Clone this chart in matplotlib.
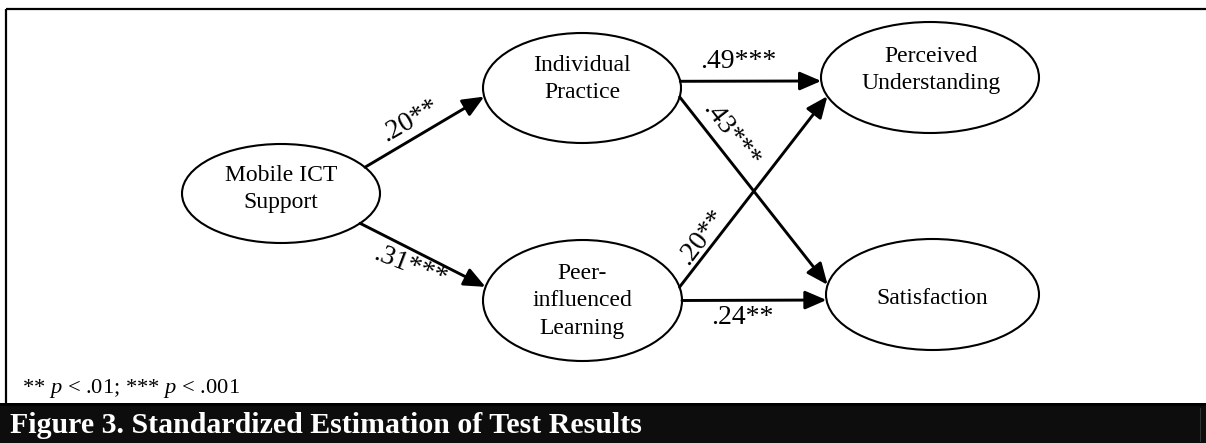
import numpy as np
import matplotlib
matplotlib.use("Agg")
import matplotlib.pyplot as plt
from matplotlib.patches import Ellipse, Rectangle

plt.rcParams['font.family'] = ['Liberation Serif', 'DejaVu Serif']
plt.rcParams['mathtext.fontset'] = 'custom'
plt.rcParams['mathtext.rm'] = 'Liberation Serif'
plt.rcParams['mathtext.it'] = 'Liberation Serif:italic'

# data
node_ids = ["mobile", "indiv", "peer", "perc", "satis"]
node_labels = ["Mobile ICT\nSupport", "Individual\nPractice", "Peer-\ninfluenced\nLearning",
               "Perceived\nUnderstanding", "Satisfaction"]
edge_from = ["mobile", "mobile", "indiv", "indiv", "peer", "peer"]
edge_to = ["indiv", "peer", "perc", "satis", "perc", "satis"]
coefs = [0.20, 0.31, 0.49, 0.43, 0.20, 0.24]
stars = ["**", "***", "***", "***", "**", "**"]
caption = "Figure 3. Standardized Estimation of Test Results"

# layout (pixels, y down)
node_box = {  # cx, cy, width, height
    "mobile": (281, 193.5, 198, 99),
    "indiv": (582, 88, 198, 110),
    "peer": (582.5, 300.5, 199, 121),
    "perc": (930, 77.5, 218, 111),
    "satis": (932.5, 294.5, 213, 111),
}
text_pos = {"mobile": (281, 189), "indiv": (582, 79), "peer": (582, 301),
            "perc": (931, 70), "satis": (932, 299)}
# angle on source / target ellipse where each arrow starts / ends
edge_angles = [(-32, 171), (37, 193), (-7, 176.4), (9.4, 190), (-12.8, 160.3), (0, 174.3)]
label_pos = [(410, 121, 30), (410, 267, -21), (738, 61, 0), (731, 135, -52),
             (702, 237, 53), (742, 317, 0)]


def on_ellipse(node, t):
    cx, cy, w, h = node_box[node]
    t = np.radians(t)
    return cx + w / 2 * np.cos(t), cy + h / 2 * np.sin(t)


fig = plt.figure(figsize=(12.06, 4.43), dpi=100)
ax = fig.add_axes([0, 0, 1, 1])
ax.set_xlim(0, 1206)
ax.set_ylim(443, 0)
ax.axis('off')

# frame and caption bar
ax.plot([6, 1206], [9, 9], color='black', lw=1.6, solid_capstyle='butt')
ax.plot([6, 6], [9, 403], color='black', lw=1.6, solid_capstyle='butt')
ax.add_patch(Rectangle((0, 403), 1206, 40, color='#0d0d0d', lw=0))
ax.add_patch(Rectangle((0, 403), 1206, 3, color='black', lw=0))
ax.plot([1200, 1200], [408, 441], color='#3a3a3a', lw=0.6)
ax.text(10, 433, caption, color='white', fontsize=21.5, fontweight='bold', va='baseline', ha='left')

# nodes
for nid, lab in zip(node_ids, node_labels):
    cx, cy, w, h = node_box[nid]
    ax.add_patch(Ellipse((cx, cy), w, h, facecolor='white', edgecolor='black', lw=1.5))
    tx, ty = text_pos[nid]
    ax.text(tx, ty, lab, fontsize=17, ha='center', va='center', linespacing=1.42)

# edges
for src, dst, (ta, tb) in zip(edge_from, edge_to, edge_angles):
    p0 = on_ellipse(src, ta)
    p1 = on_ellipse(dst, tb)
    ax.annotate("", xy=p1, xytext=p0,
                arrowprops=dict(arrowstyle="-|>,head_length=0.65,head_width=0.28",
                                mutation_scale=20, lw=2.1, color='black',
                                shrinkA=0, shrinkB=0))

for c, s, (lx, ly, rot) in zip(coefs, stars, label_pos):
    txt = "." + f"{int(round(c * 100)):02d}" + s
    ax.text(lx, ly, txt, fontsize=20, ha='center', va='center', rotation=rot,
            rotation_mode='anchor')

ax.text(22, 393, r"** $p$ < .01; *** $p$ < .001", fontsize=16.2, ha='left', va='baseline')

fig.savefig("out.png", dpi=100)
